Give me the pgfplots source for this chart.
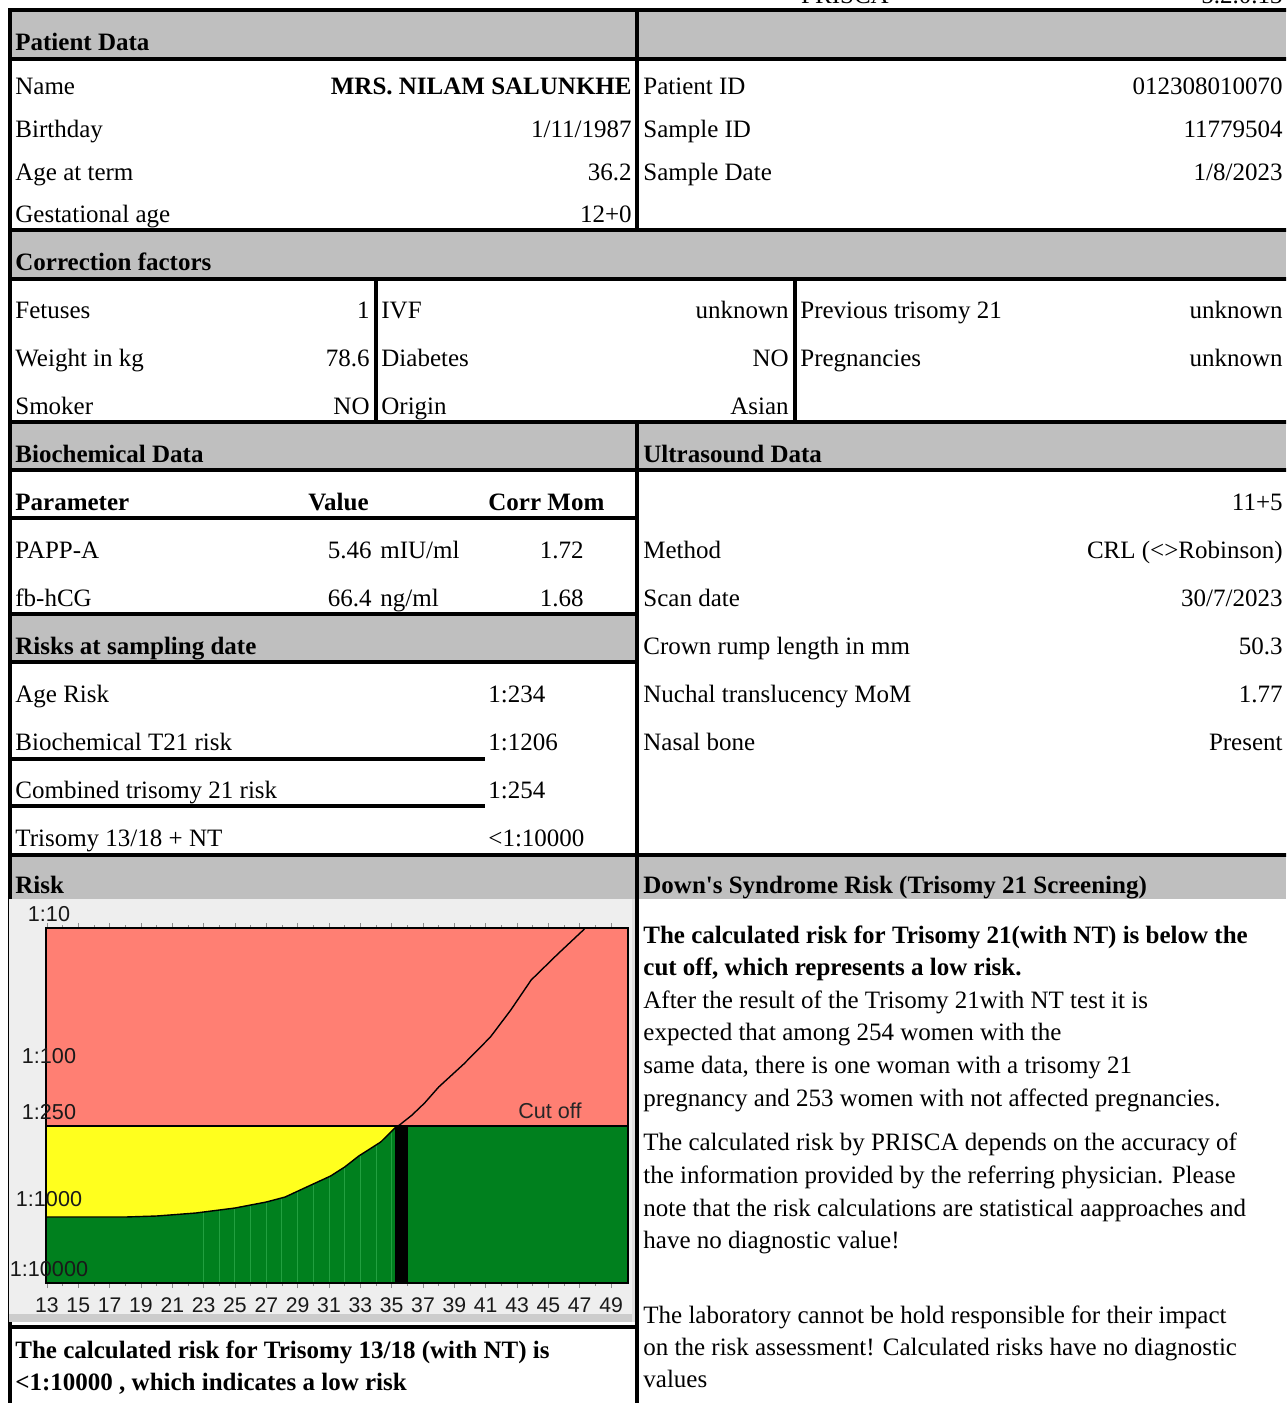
\documentclass[border=0pt]{standalone}
\usepackage{fontspec}
\setmainfont{Liberation Serif}
\setsansfont{Liberation Sans}
\usepackage{pgfplots}
\pgfplotsset{compat=1.18}

\definecolor{band}{HTML}{BFBFBF}
\definecolor{cred}{HTML}{FF7F73}
\definecolor{cyel}{HTML}{FFFF1E}
\definecolor{cgrn}{HTML}{00801E}
\definecolor{cgrnl}{HTML}{22A040}
\definecolor{panel}{HTML}{EEEEEE}

\newcommand\nf{\fontsize{12.5}{15}\selectfont}
\newcommand\cf{\sffamily\fontsize{10.6}{12}\selectfont}
\newcommand\cfy{\sffamily\fontsize{10.8}{12}\selectfont}

\begin{document}
\begin{tikzpicture}[x=0.5pt, y=-0.5pt,
  L/.style={anchor=base west, inner sep=0pt, font=\nf},
  R/.style={anchor=base east, inner sep=0pt, font=\nf},
  B/.style={anchor=base west, inner sep=0pt, font=\nf\bfseries},
  rule/.style={line width=1.75pt, line cap=rect}]
\useasboundingbox (0,0) rectangle (1286,1403);
\clip (0,0) rectangle (1286,1403);

% grey section bands
\fill[band] (10,12) rectangle (1286,57);
\fill[band] (10,232) rectangle (1286,277);
\fill[band] (10,424) rectangle (1286,468);
\fill[band] (10,616) rectangle (637,660);
\fill[band] (10,857) rectangle (1286,899);

% cut header line
\node[anchor=base, inner sep=0pt, font=\nf] at (845,3) {PRISCA};
\node[R] at (1283,3) {5.2.0.13};

% Patient data
\node[B] at (15,50) {Patient Data};
\node[L] at (15,94) {Name};
\node[R, font=\nf\bfseries] at (632,94) {MRS. NILAM SALUNKHE};
\node[L] at (15,137) {Birthday};      \node[R] at (632,137) {1/11/1987};
\node[L] at (15,180) {Age at term};   \node[R] at (632,180) {36.2};
\node[L] at (15,222) {Gestational age}; \node[R] at (632,222) {12+0};
\node[L] at (643,94) {Patient ID};    \node[R] at (1283,94) {012308010070};
\node[L] at (643,137) {Sample ID};    \node[R] at (1283,137) {11779504};
\node[L] at (643,180) {Sample Date};  \node[R] at (1283,180) {1/8/2023};

% Correction factors
\node[B] at (15,270) {Correction factors};
\node[L] at (15,318) {Fetuses};       \node[R] at (370,318) {1};
\node[L] at (15,366) {Weight in kg};  \node[R] at (370,366) {78.6};
\node[L] at (15,414) {Smoker};        \node[R] at (370,414) {NO};
\node[L] at (381,318) {IVF};          \node[R] at (789,318) {unknown};
\node[L] at (381,366) {Diabetes};     \node[R] at (789,366) {NO};
\node[L] at (381,414) {Origin};       \node[R] at (789,414) {Asian};
\node[L] at (800,318) {Previous trisomy 21}; \node[R] at (1283,318) {unknown};
\node[L] at (800,366) {Pregnancies};  \node[R] at (1283,366) {unknown};

% Biochemical data
\node[B] at (15,462) {Biochemical Data};
\node[B] at (15,510) {Parameter};
\node[B] at (308,510) {Value};
\node[B] at (488,510) {Corr Mom};
\node[L] at (15,558) {PAPP-A};  \node[R] at (372,558) {5.46}; \node[L] at (380,558) {mIU/ml}; \node[R] at (584,558) {1.72};
\node[L] at (15,606) {fb-hCG};  \node[R] at (372,606) {66.4}; \node[L] at (380,606) {ng/ml};  \node[R] at (584,606) {1.68};

% Risks at sampling date
\node[B] at (15,654) {Risks at sampling date};
\node[L] at (15,702) {Age Risk};                 \node[L] at (488,702) {1:234};
\node[L] at (15,750) {Biochemical T21 risk};     \node[L] at (488,750) {1:1206};
\node[L] at (15,798) {Combined trisomy 21 risk}; \node[L] at (488,798) {1:254};
\node[L] at (15,846) {Trisomy 13/18 + NT};       \node[L] at (488,846) {<1:10000};

% Ultrasound data
\node[B] at (643,462) {Ultrasound Data};
\node[R] at (1283,510) {11+5};
\node[L] at (643,558) {Method};                   \node[R] at (1283,558) {CRL (<>Robinson)};
\node[L] at (643,606) {Scan date};                \node[R] at (1283,606) {30/7/2023};
\node[L] at (643,654) {Crown rump length in mm};  \node[R] at (1283,654) {50.3};
\node[L] at (643,702) {Nuchal translucency MoM};  \node[R] at (1283,702) {1.77};
\node[L] at (643,750) {Nasal bone};               \node[R] at (1283,750) {Present};

% Risk headers
\node[B] at (15,893) {Risk};
\node[B] at (643,893) {Down\textquotesingle s Syndrome Risk (Trisomy 21 Screening)};

% right hand text
\node[B] at (643,943) {The calculated risk for Trisomy 21(with NT) is below the};
\node[B] at (643,975) {cut off, which represents a low risk.};
\node[L] at (643,1008) {After the result of the Trisomy 21with NT test it is};
\node[L] at (643,1040) {expected that among 254 women with the};
\node[L] at (643,1073) {same data, there is one woman with a trisomy 21};
\node[L] at (643,1106) {pregnancy and 253 women with not affected pregnancies.};
\node[L] at (643,1150) {The calculated risk by PRISCA depends on the accuracy of};
\node[L] at (643,1183) {the information provided by the referring physician. Please};
\node[L] at (643,1216) {note that the risk calculations are statistical aapproaches and};
\node[L] at (643,1248) {have no diagnostic value!};
\node[L] at (643,1323) {The laboratory cannot be hold responsible for their impact};
\node[L] at (643,1355) {on the risk assessment! Calculated risks have no diagnostic};
\node[L] at (643,1387) {values};

% bottom left text
\node[B] at (15,1358) {The calculated risk for Trisomy 13/18 (with NT) is};
\node[B] at (15,1390) {<1:10000 , which indicates a low risk};

% table rules
\draw[rule] (10,10) -- (1286,10);
\draw[rule] (10,59) -- (1286,59);
\draw[rule] (10,230) -- (1286,230);
\draw[rule] (10,279) -- (1286,279);
\draw[rule] (10,422) -- (1286,422);
\draw[rule] (10,470) -- (1286,470);
\draw[rule] (10,518) -- (637,518);
\draw[rule] (10,614) -- (637,614);
\draw[rule] (10,662) -- (637,662);
\draw[rule] (10,759) -- (483,759);
\draw[rule] (10,806) -- (483,806);
\draw[rule] (10,855) -- (1286,855);
\draw[rule] (10,1327) -- (637,1327);
\draw[rule] (10,10) -- (10,1403);
\draw[rule] (637,10) -- (637,230);
\draw[rule] (637,422) -- (637,1403);
\draw[rule] (376,279) -- (376,422);
\draw[rule] (795,279) -- (795,422);

% chart panel
\fill[panel] (9,899) rectangle (635,1322);
\fill[black!20] (9,1314) rectangle (635,1322);
\fill[black!12] (632,899) rectangle (635,1322);

\coordinate (chartorigin) at (46,1283);
\begin{axis}[
  at={(chartorigin)}, anchor=south west, scale only axis,
  width=291pt, height=177.5pt,
  xmin=12.94, xmax=50.08, ymin=0, ymax=355,
  axis on top,
  axis line style={black, line width=0.6pt},
  tick align=outside,
  xtick={13,15,...,49}, minor x tick num=1,
  major tick length=2.5pt, minor tick length=1.5pt,
  x tick style={black!45, line width=0.4pt},
  /pgf/number format/assume math mode=true,
  xticklabel style={font=\cf, text=black!90, inner sep=0pt, yshift=-4.5pt},
  ytick={0,70,157,213,355},
  yticklabels={1:10000,1:1000,1:250,1:100,1:10},
  y tick style={draw=none},
  yticklabel style={font=\cfy, text=black!90, anchor=south, inner sep=0pt, xshift=4pt, yshift=3pt},
]
% zones: green below the cut off, red above it
\addplot[fill=cgrn, draw=none] coordinates {(12.94,0) (50.08,0) (50.08,157) (12.94,157)} -- cycle;
\addplot[fill=cred, draw=none] coordinates {(12.94,157) (50.08,157) (50.08,355) (12.94,355)} -- cycle;
% yellow: between the patient's risk curve and the cut off
\addplot[fill=cyel, draw=none] coordinates {
  (12.94,157) (12.94,66) (18,66) (20,67) (22.5,70) (25,75) (27,81) (28.2,86) (29.3,94)
  (31.1,107) (32,116) (32.9,127) (34.3,141) (35.3,157)} -- cycle;
% light lines under the curve
\addplot[ycomb, cgrnl, line width=0.5pt, mark=none] coordinates {
  (23,71) (24,73) (25,75) (26,78) (27,81) (28,85) (29,92) (30,99)
  (31,106) (32,116) (33,128) (34,138) (35,152)};
% risk curve by maternal age
\addplot[black, line width=0.7pt, mark=none] coordinates {
  (12.94,66) (18,66) (20,67) (22.5,70) (25,75) (27,81) (28.2,86) (29.3,94) (31.1,107)
  (32,116) (32.9,127) (34.3,141) (35.2,155) (35.5,158) (36.3,168) (37.1,180) (38,196)
  (39.6,219) (41.3,246) (42.6,273) (43.9,303) (45.6,329) (47.3,354)};
% patient's age bar
\addplot[fill=black, draw=none] coordinates {(35.2,0) (36.05,0) (36.05,157) (35.2,157)} -- cycle;
% cut off line
\addplot[black, line width=0.9pt, mark=none] coordinates {(12.94,157) (50.08,157)};
\node[anchor=base, inner sep=0pt, font=\cfy, text=black!85] at (axis cs:45.1,165) {Cut off};
\end{axis}
\end{tikzpicture}
\end{document}
